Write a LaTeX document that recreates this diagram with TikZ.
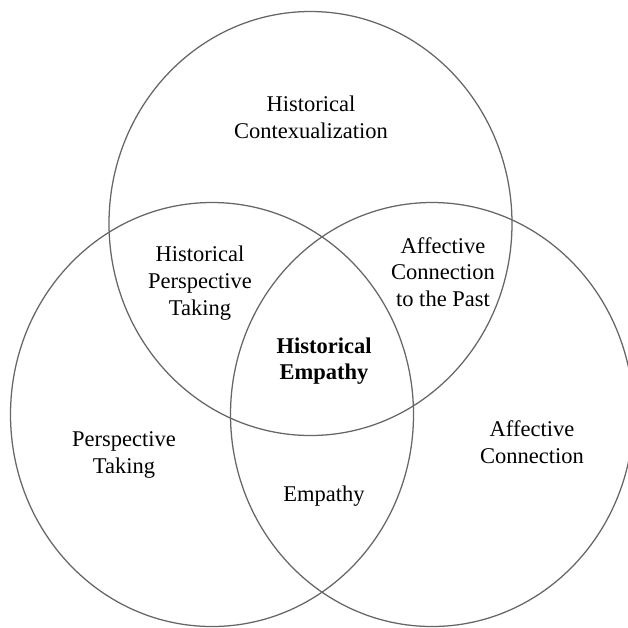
\documentclass[tikz,border=0pt]{standalone}
\usepackage{fontspec}
\setmainfont{Liberation Serif}
\usepackage{tikz}

\begin{document}
\begin{tikzpicture}[x=0.025cm, y=-0.025cm,
  ring/.style={draw=black!60, line width=0.9pt},
  lbl/.style={align=center, inner sep=0pt, font=\fontsize{16}{19}\selectfont}]
\useasboundingbox (0,0) rectangle (628,627);
\clip (0,0) rectangle (628,627);
% the three sets
\draw[ring] (310.5,223.5) circle [x radius=201.5, y radius=212];
\draw[ring] (212,414.5) circle [x radius=201.5, y radius=212];
\draw[ring] (432,414.5) circle [x radius=201.5, y radius=212];
% labels, outer parts then overlaps
\node[lbl] (ctx) at (311,117) {Historical\\ Contexualization};
\node[lbl] (pt) at (124,455) {Perspective\\ Taking};
\node[lbl] (ac) at (532,442) {Affective\\ Connection};
\node[lbl] (hpt) at (200,283) {Historical\\ Perspective\\ Taking};
\node[lbl] (acp) at (443,272) {Affective\\ Connection\\ to the Past};
\node[lbl] (emp) at (324,496) {Empathy};
\node[lbl, font=\fontsize{16}{19}\selectfont\bfseries] (he) at (324,361) {Historical\\ Empathy};
\end{tikzpicture}
\end{document}
